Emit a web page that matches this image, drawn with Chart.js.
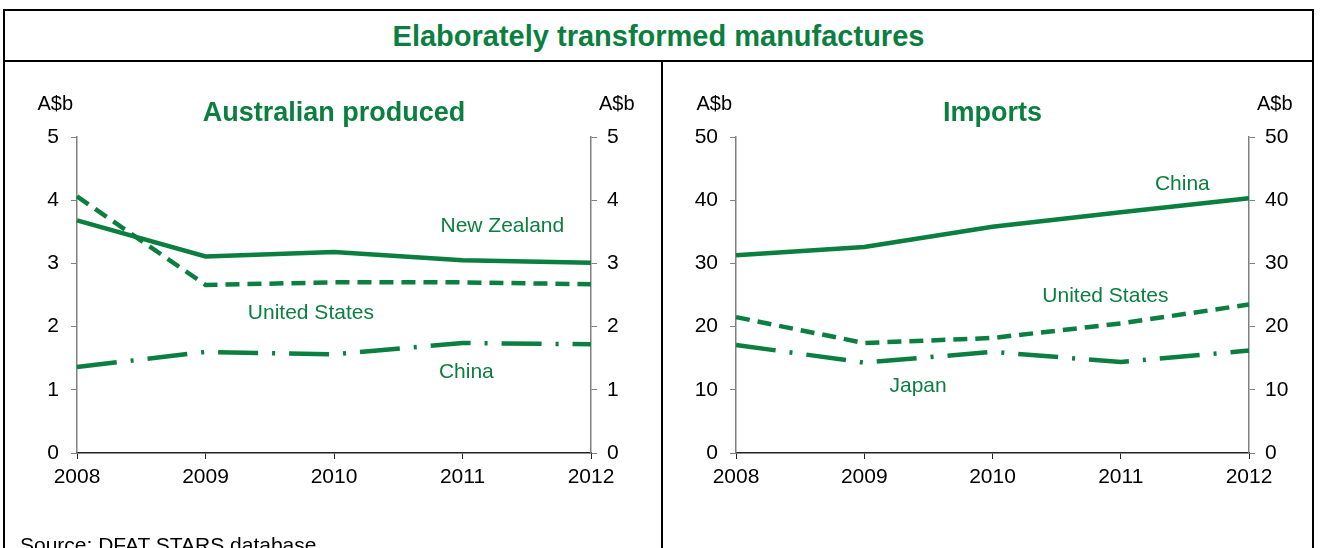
<!DOCTYPE html>
<html>
<head>
<meta charset="utf-8">
<script src="https://cdn.jsdelivr.net/npm/chart.js@4.4.1/dist/chart.umd.min.js"></script>
<style>
  html, body { margin: 0; padding: 0; background: #fff; }
  body { width: 1320px; height: 548px; overflow: hidden; position: relative; font-family: "Liberation Sans", Arial, sans-serif; }
  #frame { position: absolute; left: 3px; top: 9px; width: 1311px; height: 560px; border: 2px solid #000; box-sizing: border-box; }
  #title { position: absolute; left: 0; top: 0; width: 100%; height: 51px; border-bottom: 2px solid #000; box-sizing: border-box;
           color: #0a7f3f; font-weight: bold; font-size: 29px; text-align: center; line-height: 50px; }
  #divider { position: absolute; left: 656px; top: 51px; width: 2px; height: 520px; background: #000; }
  .panel { position: absolute; top: 62px; height: 486px; }
  #left { left: 0; width: 660px; }
  #right { left: 661px; width: 655px; }
  #source { position: absolute; left: 20px; top: 533px; font-size: 21px; color: #000; }
</style>
</head>
<body>
<div id="frame">
  <div id="title">Elaborately transformed manufactures</div>
  <div id="divider"></div>
</div>
<div class="panel" id="left"><canvas id="ausChart"></canvas></div>
<div class="panel" id="right"><canvas id="impChart"></canvas></div>
<div id="source">Source: DFAT STARS database</div>

<script>
const years = ["2008", "2009", "2010", "2011", "2012"];

// Australian produced, A$b
const ausNewZealand = [3.68, 3.11, 3.18, 3.05, 3.01];
const ausUnitedStates = [4.06, 2.66, 2.70, 2.70, 2.67];
const ausChina = [1.36, 1.60, 1.56, 1.74, 1.72];

// Imports, A$b
const impChina = [31.3, 32.6, 35.8, 38.1, 40.3];
const impUnitedStates = [21.5, 17.4, 18.2, 20.5, 23.5];
const impJapan = [17.1, 14.3, 16.0, 14.4, 16.2];

const green = "#0a7f3f";
const fontFam = "'Liberation Sans', Arial, sans-serif";
const dashed = [14, 8];
const dashDot = [40, 14, 3, 14];

function series(label, values, dash) {
  return {
    label: label,
    data: values,
    borderColor: green,
    borderWidth: 4.5,
    borderDash: dash,
    borderCapStyle: "butt",
    pointRadius: 0,
    tension: 0,
    fill: false
  };
}

// draws subtitle, unit labels and line labels
const textPlugin = {
  id: "panelText",
  afterDraw(chart, args, opts) {
    const c = chart.ctx;
    const area = chart.chartArea;
    const xs = chart.scales.x;
    const ys = chart.scales.y;
    c.save();
    c.textBaseline = "middle";
    c.fillStyle = green;
    c.font = "bold 27px " + fontFam;
    c.textAlign = "center";
    c.fillText(opts.subtitle, (area.left + area.right) / 2, area.top - 23);

    c.fillStyle = "#000";
    c.font = "20px " + fontFam;
    c.textAlign = "right";
    c.fillText("A$b", area.left - 4, area.top - 33);
    c.textAlign = "left";
    c.fillText("A$b", area.right + 8, area.top - 33);

    c.fillStyle = green;
    c.font = "21px " + fontFam;
    c.textAlign = "center";
    opts.labels.forEach(l => {
      c.fillText(l.text, xs.getPixelForValue(l.x), ys.getPixelForValue(l.y));
    });
    c.restore();
  }
};

function makeChart(id, datasets, max, subtitle, labels, leftW, rightW) {
  const tickFont = { family: fontFam, size: 21 };
  const yAxis = (pos, w) => ({
    position: pos,
    min: 0,
    max: max,
    ticks: { stepSize: max / 5, color: "#000", font: tickFont, padding: pos === "left" ? 12 : 10 },
    grid: { drawOnChartArea: false, tickLength: 6, color: "#808080" },
    border: { color: "#808080", width: 1.5 },
    afterFit(scale) { scale.width = w; }
  });
  return new Chart(document.getElementById(id), {
    type: "line",
    data: { labels: years, datasets: datasets },
    options: {
      responsive: true,
      maintainAspectRatio: false,
      animation: false,
      layout: { padding: { top: 75, left: 0, right: 0, bottom: 0 } },
      plugins: {
        legend: { display: false },
        tooltip: { enabled: false },
        panelText: { subtitle: subtitle, labels: labels }
      },
      scales: {
        x: {
          offset: false,
          ticks: { color: "#000", font: tickFont, padding: 6, maxRotation: 0, autoSkip: false },
          grid: { drawOnChartArea: false, tickLength: 6, color: "#222" },
          border: { color: "#222", width: 1.5 },
          afterFit(scale) { scale.height = 95; }
        },
        y: yAxis("left", leftW),
        y2: yAxis("right", rightW)
      }
    },
    plugins: [textPlugin]
  });
}

makeChart("ausChart", [
  series("New Zealand", ausNewZealand, []),
  series("United States", ausUnitedStates, dashed),
  series("China", ausChina, dashDot)
], 5, "Australian produced", [
  { text: "New Zealand", x: 3.31, y: 3.59 },
  { text: "United States", x: 1.82, y: 2.21 },
  { text: "China", x: 3.03, y: 1.28 }
], 77, 69);

makeChart("impChart", [
  series("China", impChina, []),
  series("United States", impUnitedStates, dashed),
  series("Japan", impJapan, dashDot)
], 50, "Imports", [
  { text: "China", x: 3.48, y: 42.5 },
  { text: "United States", x: 2.88, y: 24.8 },
  { text: "Japan", x: 1.42, y: 10.6 }
], 75, 67);
</script>
</body>
</html>
